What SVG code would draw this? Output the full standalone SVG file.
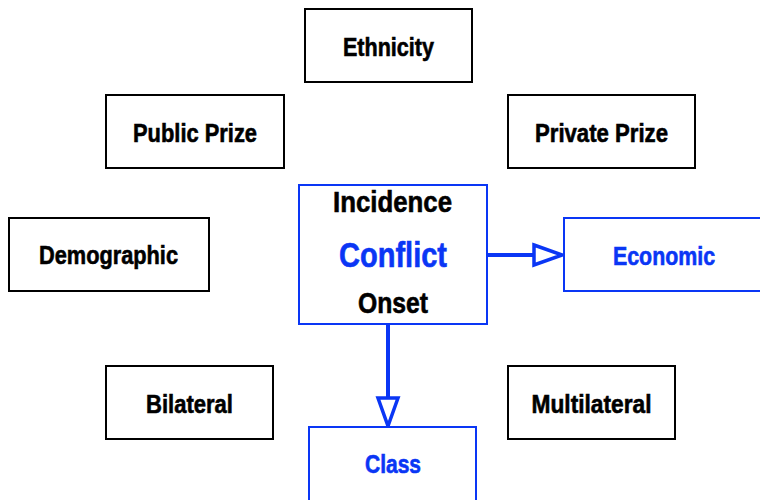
<svg xmlns="http://www.w3.org/2000/svg" width="760" height="500" viewBox="0 0 760 500">
<style>
.box{fill:#fff;stroke:#000;stroke-width:2}
.bbox{fill:#fff;stroke:#0a36f5;stroke-width:2}
text{font-family:"Liberation Sans",Arial,sans-serif;font-weight:bold;text-anchor:middle;font-size:26px;stroke-width:0.6}
.t{fill:#000;stroke:#000}
.bt{fill:#0a36f5;stroke:#0a36f5}
.edge{stroke:#0a36f5;stroke-width:4;fill:none}
</style>
<defs>
<marker id="arr" markerUnits="userSpaceOnUse" markerWidth="34" markerHeight="26" refX="30" refY="12" orient="auto" viewBox="0 0 34 24">
<path d="M2,2 L30,12 L2,22 Z" fill="#fff" stroke="#0a36f5" stroke-width="3.5"/>
</marker>
</defs>
<g id="connectors">
<line class="edge" x1="487" y1="255" x2="562" y2="255" marker-end="url(#arr)"/>
<line class="edge" x1="388" y1="325" x2="388" y2="426" marker-end="url(#arr)"/>
</g>
<g id="ethnicity"><rect class="box" x="305" y="9" width="167" height="73"/><text class="t" x="388.5" y="56" textLength="91" lengthAdjust="spacingAndGlyphs">Ethnicity</text></g>
<g id="public-prize"><rect class="box" x="106" y="95" width="178" height="73"/><text class="t" x="195" y="142" textLength="124" lengthAdjust="spacingAndGlyphs">Public Prize</text></g>
<g id="private-prize"><rect class="box" x="508" y="95" width="187" height="73"/><text class="t" x="601.5" y="142" textLength="133" lengthAdjust="spacingAndGlyphs">Private Prize</text></g>
<g id="demographic"><rect class="box" x="9" y="218" width="200" height="73"/><text class="t" x="108.5" y="264" textLength="139" lengthAdjust="spacingAndGlyphs">Demographic</text></g>
<g id="conflict"><rect class="bbox" x="299" y="185" width="188" height="139"/>
<text class="t" x="392.5" y="212" style="font-size:29px" textLength="119" lengthAdjust="spacingAndGlyphs">Incidence</text>
<text class="bt" x="393" y="267" style="font-size:35px" textLength="108" lengthAdjust="spacingAndGlyphs">Conflict</text>
<text class="t" x="393" y="313" style="font-size:29px" textLength="70" lengthAdjust="spacingAndGlyphs">Onset</text></g>
<g id="economic"><rect class="bbox" x="564" y="218" width="200" height="73"/><text class="bt" x="664" y="265" textLength="102" lengthAdjust="spacingAndGlyphs">Economic</text></g>
<g id="bilateral"><rect class="box" x="106" y="366" width="167" height="73"/><text class="t" x="189.5" y="413" textLength="87" lengthAdjust="spacingAndGlyphs">Bilateral</text></g>
<g id="multilateral"><rect class="box" x="508" y="366" width="167" height="73"/><text class="t" x="591.5" y="413" textLength="120" lengthAdjust="spacingAndGlyphs">Multilateral</text></g>
<g id="class"><rect class="bbox" x="309" y="427" width="167" height="80"/><text class="bt" x="393" y="473" textLength="56" lengthAdjust="spacingAndGlyphs">Class</text></g>
</svg>
